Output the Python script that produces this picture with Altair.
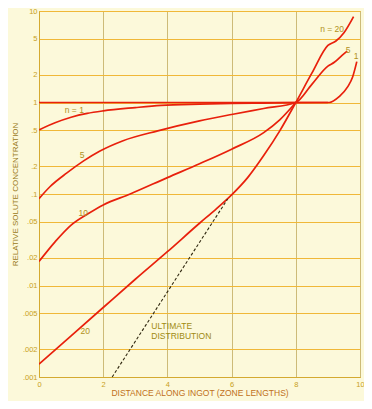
import altair as alt
import pandas as pd

# ---- data ----
x_ticks = [0, 2, 4, 6, 8, 10]
y_ticks = [0.001, 0.002, 0.005, 0.01, 0.02, 0.05, 0.1, 0.2, 0.5, 1, 2, 5, 10]
y_tick_labels = [".001", ".002", ".005", ".01", ".02", ".05", ".1", ".2", ".5", "1", "2", "5", "10"]

initial_x = [0, 9.04, 9.35, 9.62, 9.77, 9.9]
initial_y = [1.0, 1.0, 1.16, 1.49, 1.9, 2.8]

n1_x = [0, 0.5, 1, 1.5, 2, 3, 3.8, 5, 6, 7, 8, 9]
n1_y = [0.5, 0.6, 0.69, 0.76, 0.81, 0.88, 0.93, 0.96, 0.975, 0.985, 0.995, 1.0]

n5_x = [0, 0.34, 0.87, 1.39, 1.9, 2.6, 3.7, 5, 6, 7, 8, 8.5, 9, 9.2, 9.45, 9.6]
n5_y = [0.089, 0.12, 0.17, 0.23, 0.295, 0.38, 0.49, 0.63, 0.74, 0.86, 1.0, 1.58, 2.5, 2.75, 3.3, 3.65]

n10_x = [0, 0.5, 1, 1.5, 2, 2.84, 4, 5, 6, 7, 7.5, 8]
n10_y = [0.0183, 0.030, 0.0457, 0.060, 0.076, 0.10, 0.151, 0.214, 0.309, 0.468, 0.646, 1.0]

n20_x = [0, 1, 2, 3, 4, 5, 5.5, 6, 6.5, 7, 7.5, 8, 8.5, 9, 9.25, 9.5, 9.8]
n20_y = [0.00138, 0.00282, 0.00575, 0.0117, 0.0234, 0.0479, 0.0676, 0.0977, 0.151,
         0.263, 0.49, 1.0, 2.09, 4.2, 4.7, 5.8, 8.7]

ultimate_x = [2.28, 5.875]
ultimate_y = [0.001, 0.088]

label_text = ["n = 1", "5", "10", "20", "n = 20", "5", "1"]
label_x = [1.1, 1.34, 1.38, 1.44, 9.13, 9.63, 9.88]
label_y = [0.82, 0.27, 0.062, 0.0032, 6.4, 3.73, 3.2]

note_text = ["ULTIMATE", "DISTRIBUTION"]
note_x = [3.5, 3.5]
note_y = [0.0036, 0.0028]

# ---- build tables ----
rows = []
for name, xs_, ys_ in [("initial", initial_x, initial_y), ("n1", n1_x, n1_y),
                       ("n5", n5_x, n5_y), ("n10", n10_x, n10_y), ("n20", n20_x, n20_y)]:
    for xv, yv in zip(xs_, ys_):
        rows.append({"series": name, "x": xv, "y": yv})
curves = pd.DataFrame(rows)
ult = pd.DataFrame({"x": ultimate_x, "y": ultimate_y})
labels = pd.DataFrame({"x": label_x, "y": label_y, "t": label_text})
notes = pd.DataFrame({"x": note_x, "y": note_y, "t": note_text})

expr = ""
for v, l in zip(y_ticks, y_tick_labels):
    expr += f"abs(datum.value - {v}) < {v}*0.01 ? '{l}' : "
expr += "''"

xs = alt.Scale(domain=[0, 10], nice=False, zero=False)
ys = alt.Scale(type="log", domain=[0.001, 10], nice=False)

FONT = "Liberation Sans"

x_enc = alt.X("x:Q", scale=xs, axis=alt.Axis(
    values=x_ticks, title="DISTANCE ALONG INGOT (ZONE LENGTHS)", grid=True,
    gridColor="#cdbb78", gridWidth=1, ticks=False, domainColor="#d4aa30",
    labelColor="#c8a020", labelFontSize=7.5, labelFont=FONT, labelPadding=3,
    titleColor="#c07020", titleFontSize=8.5, titleFont=FONT, titleFontWeight="normal",
    titlePadding=1, labelFlush=False))
y_enc = alt.Y("y:Q", scale=ys, axis=alt.Axis(
    values=y_ticks, labelExpr=expr, title="RELATIVE SOLUTE CONCENTRATION", grid=True,
    gridColor="#f0b838", gridWidth=1, ticks=False, domainColor="#d4aa30",
    labelColor="#c8a020", labelFontSize=7.5, labelFont=FONT, labelPadding=2,
    titleColor="#9a7a20", titleFontSize=8, titleFont=FONT, titleFontWeight="normal",
    titlePadding=3, labelFlush=False))

lines = alt.Chart(curves).mark_line(
    color="#e8200c", strokeWidth=1.7, interpolate="monotone", clip=True
).encode(x=x_enc, y=y_enc, detail="series:N")

dash = alt.Chart(ult).mark_line(
    color="#302810", strokeWidth=1.1, strokeDash=[3, 2]
).encode(x=alt.X("x:Q", scale=xs), y=alt.Y("y:Q", scale=ys))

lab = alt.Chart(labels).mark_text(
    color="#b09020", fontSize=8.5, font=FONT
).encode(x=alt.X("x:Q", scale=xs), y=alt.Y("y:Q", scale=ys), text="t:N")

note = alt.Chart(notes).mark_text(
    color="#a08a10", fontSize=8.5, font=FONT, align="left"
).encode(x=alt.X("x:Q", scale=xs), y=alt.Y("y:Q", scale=ys), text="t:N")

chart = alt.layer(lines, dash, lab, note).properties(
    width=321, height=366,
    autosize=alt.AutoSizeParams(type="none"),
    padding={"left": 31, "top": 3, "right": 4, "bottom": 24},
    background="#fcf9da",
).configure_view(stroke="#c8a838", strokeWidth=1, fill="#fcf9da")

chart.save("out.html", embed_options={"renderer": "svg", "actions": False})
